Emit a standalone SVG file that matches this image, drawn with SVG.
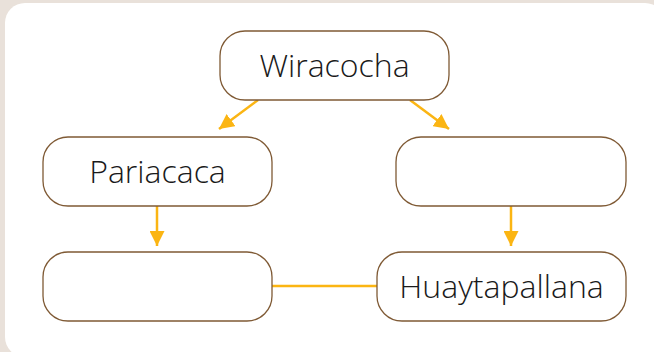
<svg xmlns="http://www.w3.org/2000/svg" width="654" height="352" viewBox="0 0 654 352">
<style>
.node rect{fill:#fff;stroke:#7f5a35;stroke-width:1.3}
.node text{font-family:"Open Sans","Noto Sans",sans-serif;font-weight:300;font-size:32px;fill:#1a1a1a;text-anchor:middle}
.conn line{stroke:#fbb513;stroke-width:2.5}
</style>
<defs>
<marker id="ah" viewBox="0 0 10 10" refX="10" refY="5" markerWidth="6" markerHeight="6" orient="auto" markerUnits="strokeWidth">
<path d="M0,0 L10,5 L0,10 z" fill="#fbb513"/>
</marker>
</defs>
<rect x="0" y="0" width="654" height="352" fill="#e9e1da"/>
<rect x="5" y="3" width="660" height="354" rx="20" fill="#fff"/>
<g id="connectors" class="conn">
<line x1="258" y1="100" x2="219" y2="129" marker-end="url(#ah)"/>
<line x1="410" y1="100" x2="449" y2="129" marker-end="url(#ah)"/>
<line x1="157" y1="206" x2="157" y2="246" marker-end="url(#ah)"/>
<line x1="511" y1="206" x2="511" y2="246" marker-end="url(#ah)"/>
<line x1="272" y1="286" x2="377" y2="286"/>
</g>
<g id="wiracocha" class="node"><rect x="220" y="31" width="229" height="69" rx="25"/><text x="334.5" y="77">Wiracocha</text></g>
<g id="pariacaca" class="node"><rect x="43" y="137" width="229" height="69" rx="25"/><text x="157.5" y="183">Pariacaca</text></g>
<g id="right-top" class="node"><rect x="396" y="137" width="230" height="69" rx="25"/></g>
<g id="left-bottom" class="node"><rect x="43" y="252" width="229" height="69" rx="25"/></g>
<g id="huaytapallana" class="node"><rect x="377" y="252" width="249" height="69" rx="25"/><text x="501.5" y="298">Huaytapallana</text></g>
</svg>
